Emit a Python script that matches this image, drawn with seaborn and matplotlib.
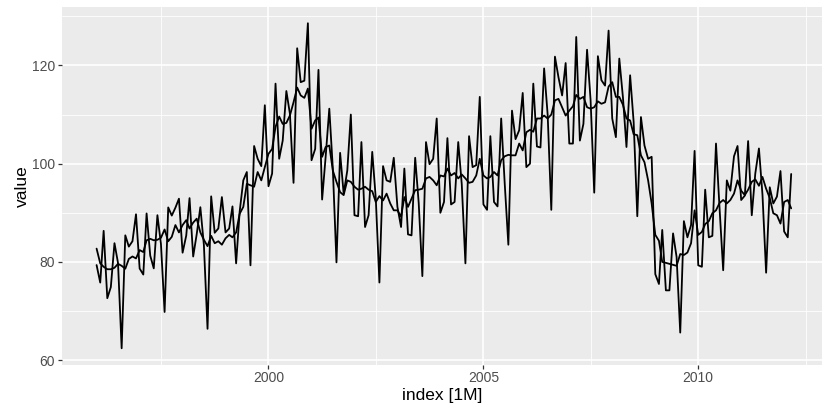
import pandas as pd
import matplotlib
matplotlib.use('Agg')
import matplotlib.pyplot as plt
import seaborn as sns

# monthly index, Jan 1996 .. Mar 2012
start_month = '1996-01'
n_months = 195

# original series
orders = [
    79.35, 75.78, 86.32, 72.60, 74.86, 83.81, 79.80, 62.41, 85.41, 83.11, 84.21, 89.70,
    78.64, 77.42, 89.86, 81.27, 78.68, 89.51, 83.67, 69.80, 91.09, 89.43, 91.04, 92.87,
    81.87, 85.36, 92.98, 81.09, 85.64, 91.14, 83.46, 66.37, 93.34, 85.93, 86.81, 93.20,
    86.0, 86.8, 91.3, 79.7, 90.2, 96.6, 98.3, 79.3, 103.6, 101.0, 99.5, 111.9,
    95.4, 98.0, 116.3, 101.0, 104.7, 114.8, 110.2, 96.1, 123.5, 116.6, 116.9, 128.6,
    100.7, 103.0, 119.1, 92.7, 101.4, 111.2, 99.0, 79.9, 102.2, 93.9, 98.6, 110.0,
    89.5, 89.3, 104.4, 87.1, 89.5, 102.4, 93.0, 75.8, 99.5, 96.6, 96.3, 101.2,
    91.2, 87.1, 99.0, 85.6, 85.4, 101.2, 92.0, 77.1, 104.4, 99.9, 101.0, 109.2,
    90.0, 92.2, 105.2, 91.7, 92.2, 104.4, 95.8, 79.7, 105.6, 99.3, 99.7, 113.6,
    91.7, 90.6, 105.6, 92.2, 91.3, 109.2, 96.0, 83.5, 110.8, 105.0, 106.8, 114.4,
    99.3, 100.0, 116.3, 103.5, 103.3, 119.4, 110.0, 90.6, 121.8, 117.6, 113.9, 120.5,
    104.1, 104.1, 125.8, 104.7, 108.1, 123.2, 113.0, 94.1, 121.9, 117.0, 115.9, 127.1,
    109.2, 105.4, 121.4, 113.5, 103.4, 118.0, 108.5, 89.3, 109.5, 103.7, 101.0, 101.4,
    77.5, 75.5, 86.5, 74.2, 74.2, 85.8, 81.0, 65.6, 88.3, 85.0, 87.5, 102.6,
    79.3, 79.0, 94.7, 85.0, 85.3, 104.1, 91.0, 78.3, 96.6, 94.5, 101.5, 103.6,
    92.6, 93.5, 104.6, 89.5, 98.0, 103.1, 93.7, 77.8, 95.2, 91.9, 93.3, 98.5,
    86.2, 85.0, 97.9,
]

# seasonally adjusted series
adjusted = [
    82.7, 79.7, 79.0, 78.5, 78.5, 78.8, 79.6, 79.2, 78.6, 80.6, 81.1, 80.7,
    82.4, 82.0, 84.4, 84.7, 84.4, 84.5, 84.9, 86.6, 84.2, 85.1, 87.5, 86.0,
    87.5, 88.5, 86.8, 88.0, 88.8, 86.0, 84.5, 83.2, 85.3, 83.8, 84.2, 83.5,
    84.8, 85.5, 85.0, 86.0, 89.8, 91.2, 95.9, 95.6, 95.3, 98.3, 96.6, 99.3,
    102.0, 103.0, 107.5, 109.6, 108.1, 108.3, 109.8, 112.5, 115.5, 113.9, 113.4, 115.3,
    107.1, 108.8, 109.4, 101.4, 103.4, 103.7, 98.6, 96.3, 94.2, 93.6, 96.6, 96.3,
    95.3, 94.7, 94.9, 95.3, 94.7, 94.4, 92.2, 93.4, 92.5, 93.9, 91.9, 90.5,
    90.5, 89.2, 93.2, 91.2, 92.9, 94.6, 94.7, 94.9, 97.0, 97.3, 96.6, 95.6,
    97.6, 97.4, 99.0, 97.6, 98.1, 97.0, 97.8, 97.0, 96.1, 96.3, 97.6, 101.0,
    97.6, 97.0, 97.3, 98.3, 97.6, 100.7, 101.5, 101.8, 101.7, 101.7, 104.1, 102.7,
    106.4, 106.9, 106.5, 109.2, 109.2, 109.8, 109.2, 110.0, 112.9, 113.2, 111.5, 109.8,
    110.8, 111.7, 114.0, 113.2, 113.6, 111.5, 111.2, 111.5, 112.7, 112.2, 112.5, 115.7,
    116.6, 113.6, 113.6, 112.0, 109.2, 108.8, 106.0, 105.8, 101.7, 100.3, 96.6, 91.9,
    85.5, 84.3, 80.0, 79.8, 79.6, 79.4, 79.2, 81.6, 81.4, 81.9, 83.8, 90.5,
    85.5, 86.1, 87.7, 88.3, 89.9, 90.5, 92.0, 92.6, 91.9, 92.6, 93.9, 96.6,
    94.5, 93.6, 94.7, 96.3, 96.8, 95.5, 97.3, 94.9, 93.0, 89.9, 89.5, 87.8,
    92.2, 92.6, 90.9,
]

year_breaks = ['2000-01-01', '2005-01-01', '2010-01-01']
year_labels = ['2000', '2005', '2010']
year_minor = ['1997-07-02', '2002-07-02', '2007-07-02', '2012-07-02']
value_breaks = [60, 80, 100, 120]
value_minor = [70, 90, 110, 130]

months = pd.date_range(start_month, periods=n_months, freq='MS')
df = pd.DataFrame({'index': months, 'orders': orders, 'adjusted': adjusted})

sns.set_style('darkgrid')
plt.rcParams['font.family'] = ['Liberation Sans', 'DejaVu Sans']

fig = plt.figure(figsize=(8.23, 4.09), dpi=100)
ax = fig.add_axes([62 / 823, 1 - 364.5 / 409, 760 / 823, 357.5 / 409])
ax.set_facecolor('#EBEBEB')

sns.lineplot(data=df, x='index', y='orders', color='black', linewidth=1.3, ax=ax)
sns.lineplot(data=df, x='index', y='adjusted', color='black', linewidth=1.3, ax=ax)

ax.margins(x=0.05, y=0.05)
ax.set_xticks(pd.to_datetime(year_breaks))
ax.set_xticklabels(year_labels)
ax.set_xticks(pd.to_datetime(year_minor), minor=True)
ax.set_yticks(value_breaks)
ax.set_yticks(value_minor, minor=True)
ax.set_xlim(pd.Timestamp('1995-03-13'), pd.Timestamp('2012-11-18'))

ax.grid(which='major', color='white', linewidth=1.2)
ax.grid(which='minor', color='white', linewidth=0.6)
ax.set_axisbelow(True)
for s in ax.spines.values():
    s.set_visible(False)

ax.tick_params(which='major', length=3, width=0.9, color='#333333',
               labelsize=10, labelcolor='#4D4D4D', pad=2, bottom=True, left=True)
ax.tick_params(which='minor', length=0)

ax.set_xlabel('index [1M]', fontsize=12.5, color='black', labelpad=2)
ax.set_ylabel('value', fontsize=12.5, color='black', labelpad=1)

fig.savefig('out.png', dpi=100)
